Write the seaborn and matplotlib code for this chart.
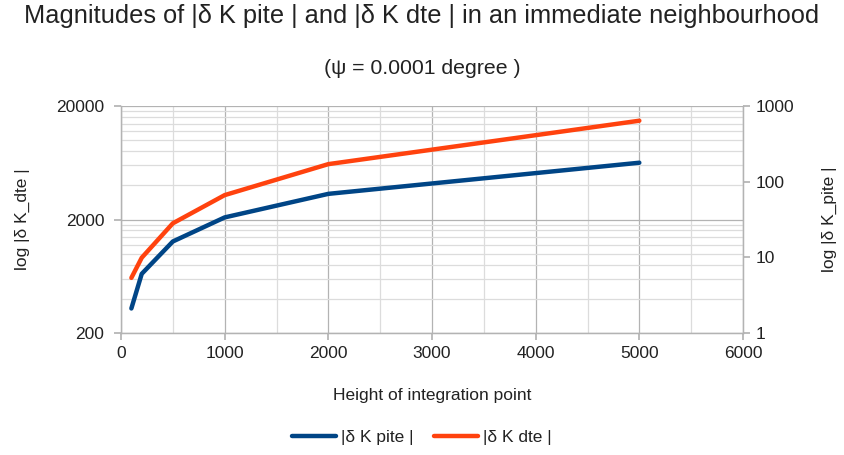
import matplotlib
matplotlib.use("Agg")
import matplotlib.pyplot as plt
import seaborn as sns
import numpy as np
import pandas as pd
from matplotlib.ticker import FixedLocator, FixedFormatter, NullFormatter, NullLocator
from matplotlib.lines import Line2D

# ---- data ----
heights = [100, 200, 500, 1000, 2000, 5000]
k_pite = [2.11, 6.05, 16.2, 33.7, 69.0, 178.0]      # right axis
k_dte = [612, 921, 1851, 3280, 6150, 14840]           # left axis
series_names = ["|δ K pite |", "|δ K dte |"]
title = "Magnitudes of |δ K pite | and |δ K dte | in an immediate neighbourhood"
subtitle = "(ψ = 0.0001 degree )"
xlabel = "Height of integration point"
ylabel_left = "log |δ K_dte |"
ylabel_right = "log |δ K_pite |"
left_ticks = [200, 2000, 20000]
right_ticks = [1, 10, 100, 1000]
x_ticks = [0, 1000, 2000, 3000, 4000, 5000, 6000]

sns.set_theme(style="white")
plt.rcParams["font.family"] = ["Liberation Sans", "DejaVu Sans"]

c_blue = "#004586"
c_orange = "#ff420e"
grid_major = "#b3b3b3"
grid_minor = "#dcdcdc"
txt = "#222222"

W, H = 844, 455
fig = plt.figure(figsize=(W/100, H/100), dpi=100)
ax = fig.add_axes([121/W, 1-333/H, (743-121)/W, (333-106)/H])
ax2 = ax.twinx()

df = pd.DataFrame({"h": heights, "pite": k_pite, "dte": k_dte})

ax.set_yscale("log")
ax.set_ylim(200, 20000)
ax.set_xlim(0, 6000)
ax2.set_yscale("log")
ax2.set_ylim(1, 1000)

minor_y = [v for v in range(400, 2000, 200)] + [v for v in range(4000, 20000, 2000)]
ax.yaxis.set_major_locator(FixedLocator(left_ticks))
ax.yaxis.set_major_formatter(FixedFormatter([str(t) for t in left_ticks]))
ax.yaxis.set_minor_locator(FixedLocator(minor_y))
ax.yaxis.set_minor_formatter(NullFormatter())
ax.xaxis.set_major_locator(FixedLocator(x_ticks))
ax.xaxis.set_minor_locator(FixedLocator(list(range(500, 6000, 1000))))
ax.set_xticklabels([str(t) for t in x_ticks])

ax.grid(True, which="major", color=grid_major, linewidth=0.9)
ax.grid(True, which="minor", color=grid_minor, linewidth=0.9)
ax.set_axisbelow(True)

ax2.yaxis.set_major_locator(FixedLocator(right_ticks))
ax2.yaxis.set_major_formatter(FixedFormatter([str(t) for t in right_ticks]))
ax2.yaxis.set_minor_locator(NullLocator())
ax2.grid(False)

sns.lineplot(data=df, x="h", y="dte", ax=ax, color=c_orange, linewidth=3.2, legend=False)
sns.lineplot(data=df, x="h", y="pite", ax=ax2, color=c_blue, linewidth=3.2, legend=False)

for a in (ax, ax2):
    for s in a.spines.values():
        s.set_color(grid_major)
        s.set_linewidth(0.9)
ax.spines["top"].set_visible(False)
ax2.spines["top"].set_visible(False)

tfs = 12.5
ax.tick_params(axis="y", which="major", left=True, length=5, color=grid_major, labelsize=tfs, labelcolor=txt, pad=7)
ax.tick_params(axis="y", which="minor", left=False, length=0)
ax.tick_params(axis="x", which="major", bottom=True, length=5, color=grid_major, labelsize=tfs, labelcolor=txt, pad=4)
ax.tick_params(axis="x", which="minor", bottom=False, length=0)
ax2.tick_params(axis="y", which="major", right=True, length=5, color=grid_major, labelsize=tfs, labelcolor=txt, pad=4)

afs = 12.5
ax.set_xlabel(xlabel, fontsize=afs, color=txt)
ax.xaxis.set_label_coords(0.5, -(388-333)/227, transform=ax.transAxes)
ax.set_ylabel(ylabel_left, fontsize=afs, color=txt)
ax.yaxis.set_label_coords((30-121)/622, 0.5, transform=ax.transAxes)
ax2.set_ylabel(ylabel_right, fontsize=afs, color=txt)
ax2.yaxis.set_label_coords((822-121)/622, 0.5, transform=ax2.transAxes)

fig.text(0.5, 1-16/H, title, ha="center", va="center", fontsize=18.3, color=txt)
fig.text(0.5, 1-68/H, subtitle, ha="center", va="center", fontsize=15.3, color=txt)

handles = [Line2D([], [], color=c_blue, linewidth=3.2), Line2D([], [], color=c_orange, linewidth=3.2)]
fig.legend(handles, series_names, loc="center", bbox_to_anchor=(0.5, 1-437/H), ncol=2,
           frameon=False, fontsize=12.5, handlelength=2.5, handletextpad=0.3, columnspacing=1.2,
           labelcolor=txt)

fig.savefig("out.png", dpi=100)
